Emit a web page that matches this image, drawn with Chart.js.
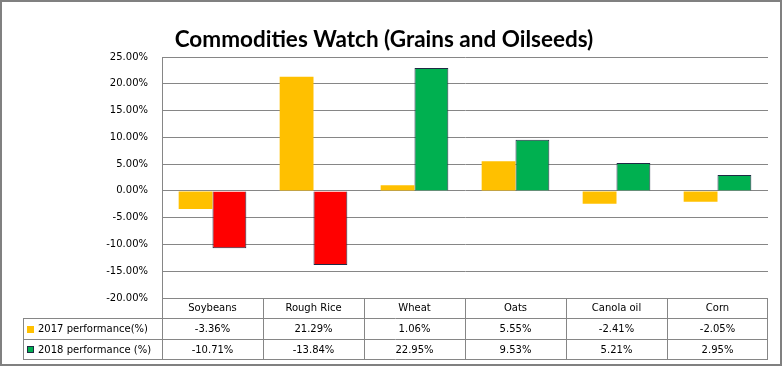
<!DOCTYPE html>
<html>
<head>
<meta charset="utf-8">
<script src="https://cdn.jsdelivr.net/npm/chart.js@4.4.1/dist/chart.umd.min.js"></script>
<style>
  html, body { margin: 0; padding: 0; background: #fff; }
  #wrap { width: 782px; height: 366px; position: relative; }
</style>
</head>
<body>
<div id="wrap"><canvas id="c" width="782" height="366"></canvas></div>
<script>
const categories = ['Soybeans', 'Rough Rice', 'Wheat', 'Oats', 'Canola oil', 'Corn'];
const perf2017 = [-3.36, 21.29, 1.06, 5.55, -2.41, -2.05];
const perf2018 = [-10.71, -13.84, 22.95, 9.53, 5.21, 2.95];
const seriesLabels = ['2017 performance(%)', '2018 performance (%)'];
const yTicks = { min: -20, max: 25, step: 5 };

const FONT = 'DejaVu Sans';
const GRID = '#868686';
const YELLOW = '#FFC000';
const GREEN = '#00B050';
const RED = '#FF0000';
const EDGE = '#1F2A44';

const tablePlugin = {
  id: 'tablePlugin',
  beforeDraw(chart) {
    const ctx = chart.ctx;
    ctx.save();
    ctx.fillStyle = '#fff';
    ctx.fillRect(0, 0, chart.width, chart.height);
    ctx.restore();
  },
  afterDraw(chart) {
    const ctx = chart.ctx;
    const area = chart.chartArea;
    const xs = chart.scales.x;
    const n = categories.length;
    const cw = (area.right - area.left) / n;
    const y0 = Math.round(area.bottom);
    const y1 = y0 + 20, y2 = y1 + 21, y3 = y2 + 20;
    const leftT = 23;
    const R = Math.round(area.right) - 1;
    ctx.save();
    ctx.strokeStyle = GRID;
    ctx.lineWidth = 1;
    ctx.beginPath();
    [y1, y2, y3].forEach(y => { ctx.moveTo(leftT, y + 0.5); ctx.lineTo(R + 1, y + 0.5); });
    ctx.moveTo(leftT + 0.5, y1); ctx.lineTo(leftT + 0.5, y3 + 1);
    for (let i = 0; i <= n; i++) {
      const x = Math.round(area.left + i * cw) - (i === n ? 1 : 0);
      ctx.moveTo(x + 0.5, y0); ctx.lineTo(x + 0.5, y3 + 1);
    }
    ctx.stroke();

    ctx.fillStyle = '#000';
    ctx.font = '10px "' + FONT + '"';
    ctx.textAlign = 'center';
    ctx.textBaseline = 'middle';
    const rows = [perf2017, perf2018];
    const rowMid = [(y1 + y2) / 2 + 1, (y2 + y3) / 2 + 1];
    rows.forEach((arr, r) => {
      arr.forEach((v, i) => {
        ctx.fillText(v.toFixed(2) + '%', xs.getPixelForValue(i), rowMid[r]);
      });
    });
    ctx.textAlign = 'left';
    const keyColors = [YELLOW, GREEN];
    rowMid.forEach((ym, r) => {
      const ky = Math.round(ym - 4);
      ctx.fillStyle = keyColors[r];
      ctx.fillRect(27, ky, 7, 7);
      if (r === 1) {
        ctx.strokeStyle = EDGE;
        ctx.strokeRect(27.5, ky + 0.5, 6, 6);
      }
      ctx.fillStyle = '#000';
      ctx.fillText(seriesLabels[r], 38, ym);
    });

    ctx.strokeStyle = '#808080';
    ctx.lineWidth = 2;
    ctx.strokeRect(1, 1, chart.width - 2, chart.height - 2);
    ctx.restore();
  }
};

new Chart(document.getElementById('c'), {
  type: 'bar',
  data: {
    labels: categories,
    datasets: [
      {
        label: seriesLabels[0],
        data: perf2017,
        backgroundColor: YELLOW,
        borderWidth: 0
      },
      {
        label: seriesLabels[1],
        data: perf2018,
        backgroundColor: perf2018.map(v => v < 0 ? RED : GREEN),
        borderColor: EDGE,
        borderWidth: 1
      }
    ]
  },
  options: {
    responsive: false,
    animation: false,
    barPercentage: 1,
    categoryPercentage: 0.67,
    layout: { padding: { left: 0, right: 14, top: 0, bottom: 48 } },
    plugins: {
      legend: { display: false },
      tooltip: { enabled: false },
      title: {
        display: true,
        text: 'Commodities Watch (Grains and Oilseeds)',
        color: '#000',
        font: { family: 'Lato', size: 22.5, weight: 'bold' },
        padding: { top: 26, bottom: 4 }
      }
    },
    scales: {
      x: {
        grid: { display: false, drawTicks: false },
        border: { display: false },
        ticks: {
          color: '#000',
          font: { family: FONT, size: 10 },
          padding: 4,
          maxRotation: 0
        },
        afterFit(s) { s.height = 20; }
      },
      y: {
        min: yTicks.min,
        max: yTicks.max,
        grid: { color: GRID, drawTicks: false },
        border: { display: true, color: GRID },
        ticks: {
          stepSize: yTicks.step,
          color: '#000',
          font: { family: FONT, size: 10 },
          padding: 14,
          callback: v => v.toFixed(2) + '%'
        },
        afterFit(s) { s.width = 162; }
      }
    }
  },
  plugins: [tablePlugin]
});
</script>
</body>
</html>
